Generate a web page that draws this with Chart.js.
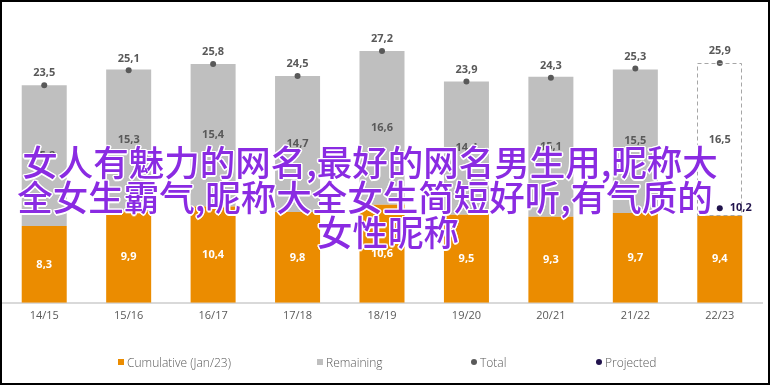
<!DOCTYPE html>
<html>
<head>
<meta charset="utf-8">
<script src="https://cdn.jsdelivr.net/npm/chart.js@4/dist/chart.umd.min.js"></script>
<style>
  html, body { margin: 0; padding: 0; background: #fff; }
  #wrap { position: relative; width: 770px; height: 385px; box-sizing: border-box; border: 2px solid #000; overflow: hidden; }
  #chart { position: absolute; left: 0; top: 0; }
  .legend-item { position: absolute; top: 352px; height: 16px; display: flex; align-items: center; font: 300 12px "Open Sans", sans-serif; color: #595959; white-space: nowrap; }
  .legend-item i { display: inline-block; width: 6px; height: 6px; margin-right: 3px; }
  .overlay { position: absolute; left: 0; width: 766px; box-sizing: border-box; text-align: center; font: 500 35.5px "Noto Sans CJK SC", sans-serif; line-height: 35px; color: #8A2BE2; white-space: nowrap;
    text-shadow: 1.5px 0 0 #fff, -1.5px 0 0 #fff, 0 1.5px 0 #fff, 0 -1.5px 0 #fff, 1px 1px 0 #fff, -1px -1px 0 #fff, 1px -1px 0 #fff, -1px 1px 0 #fff; }
</style>
</head>
<body>
<div id="wrap">
  <canvas id="chart" width="766" height="381"></canvas>
  <div class="legend-item" style="left:116px"><i style="background:#EB8C00"></i>Cumulative (Jan/23)</div>
  <div class="legend-item" style="left:315px"><i style="background:#BFBFBF"></i>Remaining</div>
  <div class="legend-item" style="left:469px"><i style="background:#595959;border-radius:50%"></i>Total</div>
  <div class="legend-item" style="left:594px"><i style="background:#21134D;border-radius:50%"></i>Projected</div>
  <div class="overlay" style="top:141px;padding-right:30px">女人有魅力的网名,最好的网名男生用,昵称大</div>
  <div class="overlay" style="top:176px;padding-right:40px">全女生霸气,昵称大全女生简短好听,有气质的</div>
  <div class="overlay" style="top:211px;padding-left:6px">女性昵称</div>
</div>
<script>
// chart data
const seasons = ['14/15', '15/16', '16/17', '17/18', '18/19', '19/20', '20/21', '21/22', '22/23'];
const cumulative = [8.3, 9.9, 10.4, 9.8, 10.6, 9.5, 9.3, 9.7, 9.4];
const remaining = [15.2, 15.3, 15.4, 14.7, 16.6, 14.4, 15.1, 15.5, 16.5];
const totals = [23.5, 25.1, 25.8, 24.5, 27.2, 23.9, 24.3, 25.3, 25.9];
const projected = [null, null, null, null, null, null, null, null, 10.2];

const ORANGE = '#EB8C00';
const GREY = '#BFBFBF';
const TEXT = '#595959';
const NAVY = '#21134D';
const FONT = '"Open Sans", sans-serif';

const fmt = v => v.toFixed(1).replace('.', ',');

// last season's remaining part is drawn as a dashed outline
const remainingColors = remaining.map((v, i) => i === remaining.length - 1 ? 'rgba(0,0,0,0)' : GREY);

const labelPlugin = {
  id: 'valueLabels',
  afterDatasetsDraw(chart) {
    const ctx = chart.ctx;
    ctx.save();
    ctx.textAlign = 'center';
    ctx.textBaseline = 'middle';
    ctx.font = '700 11px ' + FONT;

    // dashed box for the projected season
    const remMeta = chart.getDatasetMeta(1);
    const last = remMeta.data[remMeta.data.length - 1];
    ctx.strokeStyle = '#A6A6A6';
    ctx.lineWidth = 1;
    ctx.setLineDash([4, 3]);
    ctx.strokeRect(Math.round(last.x - last.width / 2) + 0.5, Math.round(last.y) + 0.5,
      Math.round(last.width) - 1, Math.round(last.base - last.y) - 1);
    ctx.setLineDash([]);

    // segment labels
    chart.getDatasetMeta(0).data.forEach((bar, i) => {
      ctx.fillStyle = '#fff';
      ctx.fillText(fmt(cumulative[i]), bar.x, (bar.y + bar.base) / 2);
    });
    remMeta.data.forEach((bar, i) => {
      ctx.fillStyle = TEXT;
      ctx.fillText(fmt(remaining[i]), bar.x, (bar.y + bar.base) / 2);
    });

    // totals above dots
    chart.getDatasetMeta(2).data.forEach((pt, i) => {
      ctx.fillStyle = TEXT;
      ctx.fillText(fmt(totals[i]), pt.x, pt.y - 12);
    });

    // projected value
    chart.getDatasetMeta(3).data.forEach((pt, i) => {
      if (projected[i] == null) return;
      ctx.fillStyle = NAVY;
      ctx.textAlign = 'left';
      ctx.fillText(fmt(projected[i]), pt.x + 10, pt.y);
    });
    ctx.restore();
  }
};

new Chart(document.getElementById('chart'), {
  type: 'bar',
  data: {
    labels: seasons,
    datasets: [
      { label: 'Cumulative (Jan/23)', data: cumulative, backgroundColor: ORANGE, stack: 'bars', order: 2 },
      { label: 'Remaining', data: remaining, backgroundColor: remainingColors, stack: 'bars', order: 2 },
      { type: 'line', label: 'Total', data: totals, showLine: false, stack: 'total',
        pointRadius: 3, pointBackgroundColor: TEXT, pointBorderWidth: 0, order: 1 },
      { type: 'line', label: 'Projected', data: projected, showLine: false, stack: 'proj',
        pointRadius: 3, pointBackgroundColor: NAVY, pointBorderWidth: 0, order: 1 }
    ]
  },
  options: {
    responsive: false,
    animation: false,
    layout: { autoPadding: false, padding: { top: 23, right: 6, bottom: 55, left: 0 } },
    datasets: { bar: { categoryPercentage: 1, barPercentage: 0.533 } },
    scales: {
      x: {
        stacked: true,
        grid: { display: false, drawTicks: false },
        border: { display: true, color: '#D9D9D9', width: 2 },
        ticks: { padding: 6, color: TEXT, font: { family: FONT, size: 11 } }
      },
      y: { stacked: true, display: false, min: 0, max: 30 }
    },
    plugins: {
      legend: { display: false },
      tooltip: { enabled: false }
    }
  },
  plugins: [labelPlugin]
});
</script>
</body>
</html>
